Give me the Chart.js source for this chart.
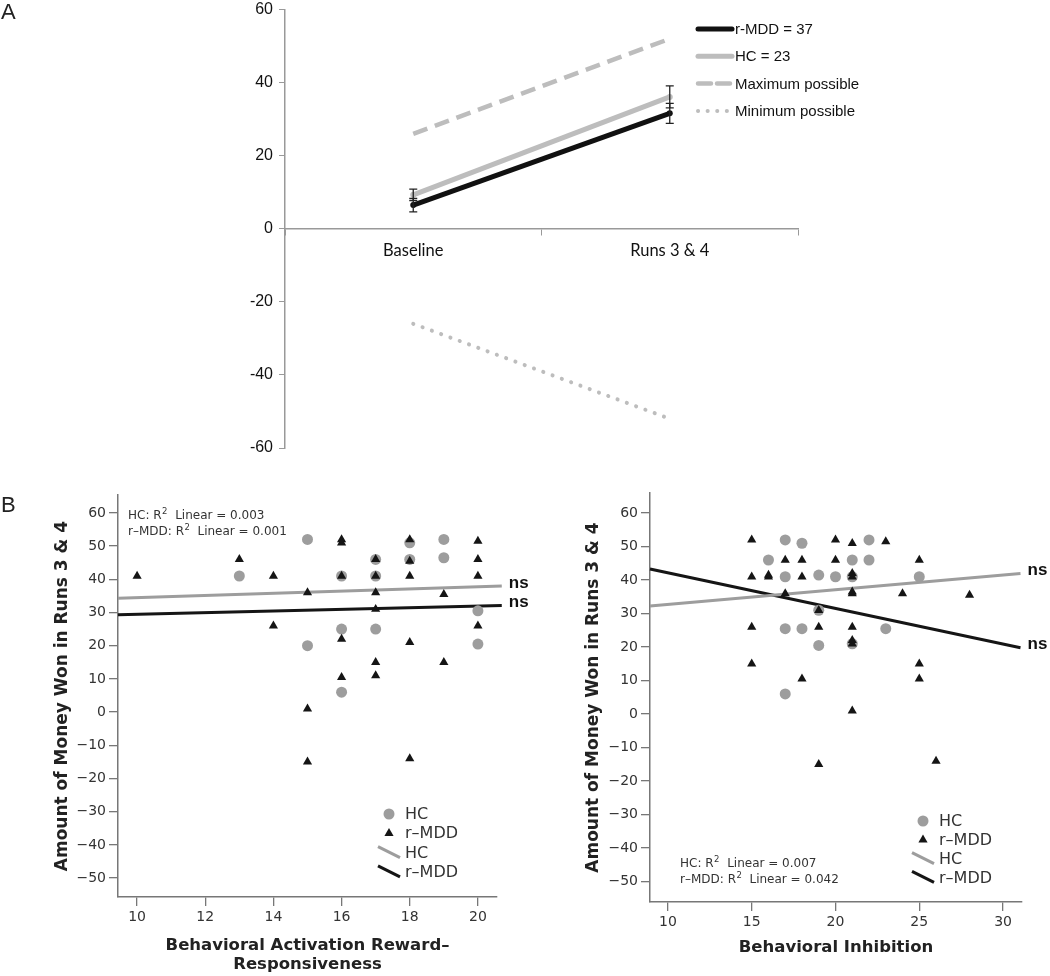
<!DOCTYPE html>
<html>
<head>
<meta charset="utf-8">
<script src="https://cdn.jsdelivr.net/npm/chart.js@4.4.0/dist/chart.umd.min.js"></script>
<style>
  body { margin: 0; background: #fff; }
  #wrap { position: relative; width: 1050px; height: 976px; overflow: hidden; }
  canvas { position: absolute; }
  .panel { position: absolute; font: 22px "Liberation Sans", Arial, sans-serif; color: #222; z-index: 2; }
</style>
</head>
<body>
<div id="wrap">
  <div class="panel" style="left:1px;top:-1px">A</div>
  <div class="panel" style="left:1px;top:492px">B</div>
  <canvas id="chartA" width="1050" height="470" style="left:0;top:-6px"></canvas>
  <canvas id="chartB1" width="545" height="506" style="left:0;top:470px"></canvas>
  <canvas id="chartB2" width="525" height="506" style="left:525px;top:470px"></canvas>
</div>
<script>
// ---- panel A data ----
const categories = ['Baseline', 'Runs 3 & 4'];
const rmddMean = [6.5, 31.6];
const hcMean = [9.3, 36.1];
const maxPossible = [26, 52];
const minPossible = [-26, -52];
const rmddSE = [1.85, 2.75];
const hcSE = [1.55, 3.0];

// ---- panel B data (x = score, y = amount won) ----
const basHC = [
  {x:13,y:41},{x:15,y:52},{x:15,y:20},{x:16,y:41},{x:16,y:25},{x:16,y:6},
  {x:17,y:46},{x:17,y:41},{x:17,y:25},{x:18,y:51},{x:18,y:46},{x:19,y:52},
  {x:19,y:46.5},{x:20,y:30.5},{x:20,y:20.5}
];
const basMDD = [
  {x:10,y:41},{x:13,y:46},{x:14,y:41},{x:14,y:26},{x:15,y:36},{x:15,y:1},{x:15,y:-15},
  {x:16,y:52},{x:16,y:51},{x:16,y:41},{x:16,y:22},{x:16,y:10.5},
  {x:17,y:46},{x:17,y:41},{x:17,y:36},{x:17,y:31},{x:17,y:15},{x:17,y:11},
  {x:18,y:52},{x:18,y:45.5},{x:18,y:41},{x:18,y:21},{x:18,y:-14},
  {x:19,y:35.5},{x:19,y:15},{x:20,y:51.5},{x:20,y:46},{x:20,y:41},{x:20,y:26}
];
const basFitHC = [{x:9.44,y:34.3},{x:20.7,y:38.0}];
const basFitMDD = [{x:9.44,y:29.3},{x:20.7,y:32.1}];
const basR2 = ['0.003', '0.001'];

const bisHC = [
  {x:16,y:46},{x:17,y:52},{x:17,y:41},{x:17,y:25.5},{x:17,y:6},{x:18,y:51},{x:18,y:25.5},
  {x:19,y:41.5},{x:19,y:31},{x:19,y:20.5},{x:20,y:41},{x:21,y:46},{x:21,y:41},{x:21,y:21},
  {x:22,y:52},{x:22,y:46},{x:23,y:25.5},{x:25,y:41}
];
const bisMDD = [
  {x:15,y:52},{x:15,y:41},{x:15,y:26},{x:15,y:15},{x:16,y:41},{x:16,y:41.5},
  {x:17,y:46},{x:17,y:36},{x:18,y:46},{x:18,y:41},{x:18,y:10.5},
  {x:19,y:31},{x:19,y:26},{x:19,y:-15},{x:20,y:52},{x:20,y:46},
  {x:21,y:51},{x:21,y:41},{x:21,y:42},{x:21,y:36},{x:21,y:36.5},{x:21,y:26},{x:21,y:21},{x:21,y:22},{x:21,y:1},
  {x:23,y:51.5},{x:24,y:36},{x:25,y:46},{x:25,y:15},{x:25,y:10.5},{x:26,y:-14},{x:28,y:35.5}
];
const bisFitHC = [{x:8.93,y:32.3},{x:31.04,y:42.0}];
const bisFitMDD = [{x:8.93,y:43.3},{x:31.04,y:19.8}];
const bisR2 = ['0.007', '0.042'];

const GREY = '#bdbdbd';
const DOT = '#9d9d9d';
const DARK = '#151515';

// error bars for panel A
const errorBars = {
  id: 'errorBars',
  afterDatasetsDraw(chart) {
    const ctx = chart.ctx, y = chart.scales.y;
    chart.data.datasets.forEach((ds, i) => {
      if (!ds.errors) return;
      chart.getDatasetMeta(i).data.forEach((pt, j) => {
        const hi = y.getPixelForValue(ds.data[j] + ds.errors[j]);
        const lo = y.getPixelForValue(ds.data[j] - ds.errors[j]);
        ctx.save();
        ctx.strokeStyle = '#222';
        ctx.lineWidth = 1.3;
        ctx.beginPath();
        ctx.moveTo(pt.x, hi); ctx.lineTo(pt.x, lo);
        ctx.moveTo(pt.x - 4, hi); ctx.lineTo(pt.x + 4, hi);
        ctx.moveTo(pt.x - 4, lo); ctx.lineTo(pt.x + 4, lo);
        ctx.stroke();
        ctx.restore();
      });
    });
  }
};

// legend of panel A, drawn over the plot like the original
const lineLegend = {
  id: 'lineLegend',
  afterDraw(chart, args, opts) {
    const ctx = chart.ctx;
    chart.data.datasets.forEach((ds, i) => {
      const y = opts.y + i * opts.step;
      ctx.save();
      ctx.strokeStyle = ds.borderColor;
      ctx.lineWidth = ds.borderWidth;
      ctx.setLineDash(ds.legendDash || ds.borderDash || []);
      ctx.lineCap = ds.borderCapStyle || 'round';
      ctx.beginPath();
      ctx.moveTo(opts.x, y); ctx.lineTo(opts.x + opts.len, y);
      ctx.stroke();
      ctx.fillStyle = '#111';
      ctx.font = '15px "Liberation Sans", Arial, sans-serif';
      ctx.textBaseline = 'middle';
      ctx.fillText(ds.label, opts.x + opts.len + 3, y + 1);
      ctx.restore();
    });
  }
};

// canvas A sits 6px above the page top, so plugin positions are +6
new Chart(document.getElementById('chartA'), {
  type: 'line',
  data: {
    labels: categories,
    datasets: [
      { label: 'r-MDD = 37', data: rmddMean, errors: rmddSE, borderColor: '#111', backgroundColor: '#111',
        borderWidth: 5, pointRadius: 3, pointBorderWidth: 0 },
      { label: 'HC = 23', data: hcMean, errors: hcSE, borderColor: GREY, backgroundColor: GREY,
        borderWidth: 5, pointRadius: 3, pointBorderWidth: 0 },
      { label: 'Maximum possible', data: maxPossible, borderColor: GREY, borderWidth: 4.5,
        borderDash: [15, 8], legendDash: [13, 6], pointRadius: 0 },
      { label: 'Minimum possible', data: minPossible, borderColor: GREY, borderWidth: 4,
        borderDash: [0.1, 9.8], legendDash: [0.1, 9.5], borderCapStyle: 'round', pointRadius: 0 }
    ]
  },
  options: {
    responsive: false,
    animation: false,
    layout: { padding: { left: 0, top: 3, right: 252, bottom: 16 } },
    plugins: {
      legend: { display: false },
      tooltip: { enabled: false },
      lineLegend: { x: 698, y: 35, step: 27.3, len: 34 }
    },
    scales: {
      x: {
        position: { y: 0 },
        offset: true,
        grid: { offset: true, drawOnChartArea: false, tickLength: 6, color: '#999' },
        border: { color: '#999', width: 1.5 },
        ticks: { font: { family: 'Lato', size: 16.5 }, color: '#111', padding: 6 }
      },
      y: {
        min: -60, max: 60,
        ticks: { stepSize: 20, font: { family: '"Liberation Sans"', size: 16 }, color: '#111', padding: 6 },
        grid: { drawOnChartArea: false, tickLength: 6, color: '#999' },
        border: { color: '#999', width: 1.5 },
        afterFit: s => { s.width = 285; }
      }
    }
  },
  plugins: [errorBars, lineLegend]
});

// extras for the scatter panels: ns labels, R2 notes, legend
const scatterExtras = {
  id: 'scatterExtras',
  afterDraw(chart, args, opts) {
    const ctx = chart.ctx;
    const ds = chart.data.datasets;
    ctx.save();
    // ns labels at the end of each fit line
    ds.forEach((d, i) => {
      if (!d.fit) return;
      const pts = chart.getDatasetMeta(i).data;
      const last = pts[pts.length - 1];
      ctx.fillStyle = '#111';
      ctx.font = 'bold 17px "Liberation Sans", Arial, sans-serif';
      ctx.textBaseline = 'middle';
      ctx.fillText('ns', last.x + 7, last.y - 3);
    });
    // R2 notes
    const normal = '12px "DejaVu Sans", sans-serif';
    const small = '8.5px "DejaVu Sans", sans-serif';
    ['HC', 'r\u2013MDD'].forEach((g, k) => {
      let x = opts.noteX, y = opts.noteY + k * 16;
      ctx.fillStyle = '#333';
      ctx.textBaseline = 'middle';
      ctx.font = normal;
      const head = g + ': R';
      ctx.fillText(head, x, y);
      x += ctx.measureText(head).width + 0.5;
      ctx.font = small;
      ctx.fillText('2', x, y - 4);
      x += ctx.measureText('2').width;
      ctx.font = normal;
      ctx.fillText('  Linear = ' + opts.r2[k], x, y);
    });
    // legend
    const lx = opts.legX, ly = opts.legY, st = opts.legStep;
    const items = [ds[1], ds[0], ds[2], ds[3]];
    items.forEach((d, k) => {
      const y = ly + k * st;
      if (k === 0) {
        ctx.fillStyle = d.backgroundColor;
        ctx.beginPath(); ctx.arc(lx, y, d.pointRadius, 0, Math.PI * 2); ctx.fill();
      } else if (k === 1) {
        const r = d.pointRadius;
        ctx.fillStyle = d.backgroundColor;
        ctx.beginPath();
        ctx.moveTo(lx, y - r);
        ctx.lineTo(lx + r * 0.866, y + r * 0.5);
        ctx.lineTo(lx - r * 0.866, y + r * 0.5);
        ctx.closePath(); ctx.fill();
      } else {
        ctx.strokeStyle = d.borderColor;
        ctx.lineWidth = d.borderWidth;
        ctx.beginPath(); ctx.moveTo(lx - 11, y - 6); ctx.lineTo(lx + 11, y + 5); ctx.stroke();
      }
      ctx.fillStyle = '#333';
      ctx.font = '16px "DejaVu Sans", sans-serif';
      ctx.textBaseline = 'middle';
      ctx.fillText(d.label, lx + 16, y + 1);
    });
    ctx.restore();
  }
};

const minusFmt = v => (v < 0 ? '\u2212' + Math.abs(v) : String(v));

function makeScatter(id, p) {
  return new Chart(document.getElementById(id), {
    type: 'scatter',
    data: {
      datasets: [
        { label: 'r\u2013MDD', data: p.mdd, pointStyle: 'triangle', pointRadius: 5.3, backgroundColor: DARK, pointBorderWidth: 0 },
        { label: 'HC', data: p.hc, pointStyle: 'circle', pointRadius: 5.5, backgroundColor: DOT, pointBorderWidth: 0 },
        { type: 'line', label: 'HC', data: p.fitHC, fit: true, borderColor: DOT, borderWidth: 3, pointRadius: 0, clip: false },
        { type: 'line', label: 'r\u2013MDD', data: p.fitMDD, fit: true, borderColor: DARK, borderWidth: 3, pointRadius: 0, clip: false }
      ]
    },
    options: {
      responsive: false,
      animation: false,
      layout: { padding: { left: 0, top: p.top, right: p.canvasW - p.right, bottom: 0 } },
      plugins: {
        legend: { display: false },
        tooltip: { enabled: false },
        scatterExtras: p.extras
      },
      scales: {
        x: {
          min: p.xMin, max: p.xMax,
          ticks: { stepSize: p.xStep, includeBounds: false, font: { family: '"DejaVu Sans"', size: 14 }, color: '#333', padding: 3 },
          grid: { drawOnChartArea: false, tickLength: 9, color: '#777', lineWidth: 1.3 },
          border: { color: '#777', width: 1.5 },
          title: { display: true, text: p.xTitle, color: '#222',
                   font: { family: '"DejaVu Sans"', size: 16.5, weight: 'bold', lineHeight: 1.15 },
                   padding: { top: 0, bottom: p.xTitlePad } },
          afterFit: s => { s.height = p.xHeight; }
        },
        y: {
          min: p.yMin, max: p.yMax,
          ticks: { stepSize: 10, includeBounds: false, callback: minusFmt, font: { family: '"DejaVu Sans"', size: 14 }, color: '#333', padding: 3 },
          grid: { drawOnChartArea: false, tickLength: 9, color: '#777', lineWidth: 1.3 },
          border: { color: '#777', width: 1.5 },
          title: { display: true, text: 'Amount of Money Won in Runs 3 & 4', color: '#222',
                   font: { family: '"DejaVu Sans"', size: 17, weight: 'bold', lineHeight: 1.15 },
                   padding: { top: p.yTitlePad, bottom: 0 } },
          afterFit: s => { s.width = p.yWidth; }
        }
      }
    },
    plugins: [scatterExtras]
  });
}

makeScatter('chartB1', {
  hc: basHC, mdd: basMDD, fitHC: basFitHC, fitMDD: basFitMDD,
  xMin: 9.44, xMax: 20.56, xStep: 2, yMin: -55.7, yMax: 65.4,
  canvasW: 545, top: 25, right: 497, yWidth: 118, xHeight: 79, yTitlePad: 53.2, xTitlePad: 1.5,
  xTitle: ['Behavioral Activation Reward\u2013', 'Responsiveness'],
  extras: { noteX: 128, noteY: 46, r2: basR2, legX: 389, legY: 344, legStep: 19.3 }
});

makeScatter('chartB2', {
  hc: bisHC, mdd: bisMDD, fitHC: bisFitHC, fitMDD: bisFitMDD,
  xMin: 8.93, xMax: 31.13, xStep: 5, yMin: -56.1, yMax: 66,
  canvasW: 525, top: 23, right: 497, yWidth: 125, xHeight: 74, yTitlePad: 59.2, xTitlePad: 18.5,
  xTitle: 'Behavioral Inhibition',
  extras: { noteX: 155, noteY: 394, r2: bisR2, legX: 398, legY: 351, legStep: 18.8 }
});
</script>
</body>
</html>
